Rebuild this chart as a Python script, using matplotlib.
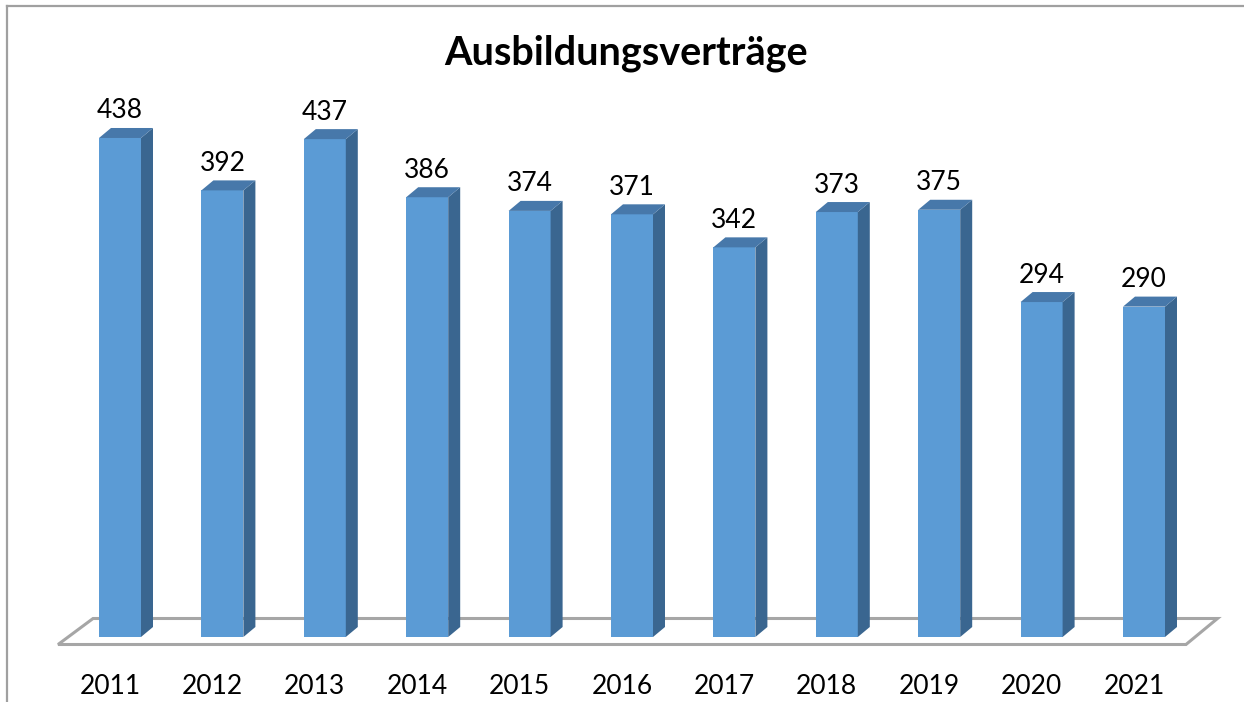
import matplotlib
matplotlib.use("Agg")
import matplotlib.pyplot as plt
from matplotlib.patches import Polygon
from matplotlib.lines import Line2D

years = ["2011", "2012", "2013", "2014", "2015", "2016", "2017", "2018", "2019", "2020", "2021"]
values = [438, 392, 437, 386, 374, 371, 342, 373, 375, 294, 290]
title = "Ausbildungsverträge"

FRONT = "#5B9BD5"
TOP = "#4778AA"
SIDE = "#3A6690"
FLOOR = "#A6A6A6"

plt.rcParams['font.family'] = ['Lato', 'DejaVu Sans']

W, H = 1244, 702
fig = plt.figure(figsize=(W / 100, H / 100), dpi=100)
ax = fig.add_axes([0, 0, 1, 1])
ax.set_axis_off()

# pixel mapping helpers for the axes limits
x0_px, pitch = 120.0, 102.4
y0_px, scale = 637.0, 1.1393
ax.set_xlim((0 - x0_px) / pitch, (W - x0_px) / pitch)
ax.set_ylim((y0_px - H) / scale, y0_px / scale)

n = len(values)
hw = 21 / pitch          # half width of bar front
ddx = 12 / pitch         # depth offset x
ddy = 10 / scale         # depth offset y

# floor
fdx = 35 / pitch
fdy = 26 / scale
fl = -0.605
fr = n - 1 + 0.41
fy = -7.5 / scale
floor = Polygon([(fl, fy), (fr, fy), (fr + fdx * 0.9, fy + fdy), (fl + fdx, fy + fdy)],
                closed=True, facecolor="white", edgecolor=FLOOR, lw=2.2, zorder=1)
ax.add_patch(floor)

for i, v in enumerate(values):
    l, r = i - hw, i + hw
    front = Polygon([(l, 0), (r, 0), (r, v), (l, v)], closed=True,
                    facecolor=FRONT, edgecolor="none", zorder=3)
    side = Polygon([(r, 0), (r + ddx, ddy), (r + ddx, v + ddy), (r, v)], closed=True,
                   facecolor=SIDE, edgecolor="none", zorder=3)
    top = Polygon([(l, v), (r, v), (r + ddx, v + ddy), (l + ddx, v + ddy)], closed=True,
                  facecolor=TOP, edgecolor="none", zorder=3)
    for p in (front, side, top):
        ax.add_patch(p)
    ax.text(i, v + 27 / scale, str(v), ha="center", va="center",
            fontsize=19, color="black", zorder=4)
    ax.text(i - 10 / pitch, -49 / scale, years[i], ha="center", va="center",
            fontsize=19, color="black", zorder=4)

fig.text(626 / W, 1 - 53 / H, title, ha="center", va="center",
         fontsize=28.5, fontweight="bold", color="black")

# chart border (top and left edges visible)
fig.add_artist(Line2D([7 / W, 1], [1 - 5.5 / H, 1 - 5.5 / H], color="#A0A0A0", lw=1.6))
fig.add_artist(Line2D([7.5 / W, 7.5 / W], [0, 1 - 5.5 / H], color="#A0A0A0", lw=1.6))

fig.savefig("out.png", dpi=100)
